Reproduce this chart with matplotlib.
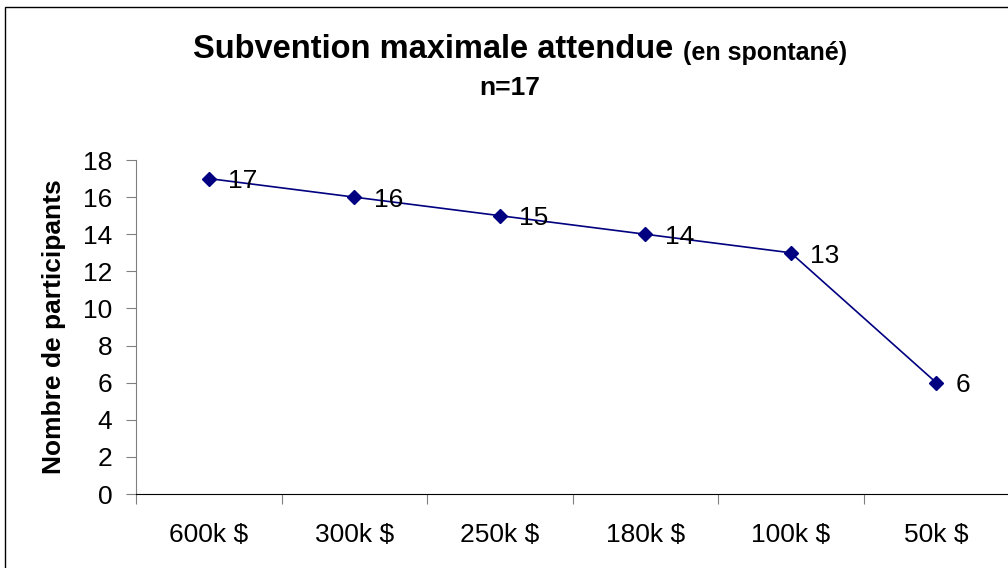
import matplotlib.pyplot as plt
from matplotlib.patches import Rectangle

plt.rcParams['font.family'] = ['Liberation Sans', 'DejaVu Sans']

# data
categories = ['600k $', '300k $', '250k $', '180k $', '100k $', '50k $']
participants = [17, 16, 15, 14, 13, 6]
y_ticks = list(range(0, 19, 2))

fig = plt.figure(figsize=(10.08, 5.68), dpi=100)
ax = fig.add_axes([136 / 1008, 1 - 494 / 568, 873 / 1008, 334 / 568])

x = list(range(len(categories)))
ax.plot(x, participants, color='#000080', lw=1.2, marker='D', ms=7, clip_on=False)
for xi, v in zip(x, participants):
    ax.annotate(str(v), (xi, v), xytext=(14, -2), textcoords='offset points',
                fontsize=19, va='center', ha='left')

ax.set_xlim(-0.5, len(categories) - 0.5)
ax.set_ylim(0, 18)
ax.set_yticks(y_ticks)
ax.set_xticks([i - 0.5 for i in x])
ax.set_xticklabels([])
ax.set_xticks(x, minor=True)
ax.set_xticklabels(categories, minor=True, fontsize=19)
ax.tick_params(axis='x', which='minor', length=0, pad=21)
ax.tick_params(axis='x', which='major', length=7, color='#808080', direction='out')
ax.tick_params(axis='y', length=7, color='#808080', labelsize=19, pad=10)

for s in ['top', 'right']:
    ax.spines[s].set_visible(False)
ax.spines['left'].set_color('#808080')
ax.spines['bottom'].set_color('black')

ax.set_ylabel('Nombre de participants', fontsize=19, fontweight='bold', labelpad=12)

# title
fig.text(673 / 1008, 1 - 50 / 568, 'Subvention maximale attendue', fontsize=23.5,
         fontweight='bold', ha='right', va='center')
fig.text(683 / 1008, 1 - 53 / 568, '(en spontané)', fontsize=18, fontweight='bold',
         ha='left', va='center')
fig.text(510 / 1008, 1 - 88 / 568, 'n=17', fontsize=19, fontweight='bold',
         ha='center', va='center')

# outer frame
fig.patches.append(Rectangle((5 / 1008, -0.1), 1.2, 1 - 7 / 568 + 0.1, transform=fig.transFigure,
                             fill=False, edgecolor='black', lw=1))

fig.savefig('out.png', dpi=100)
